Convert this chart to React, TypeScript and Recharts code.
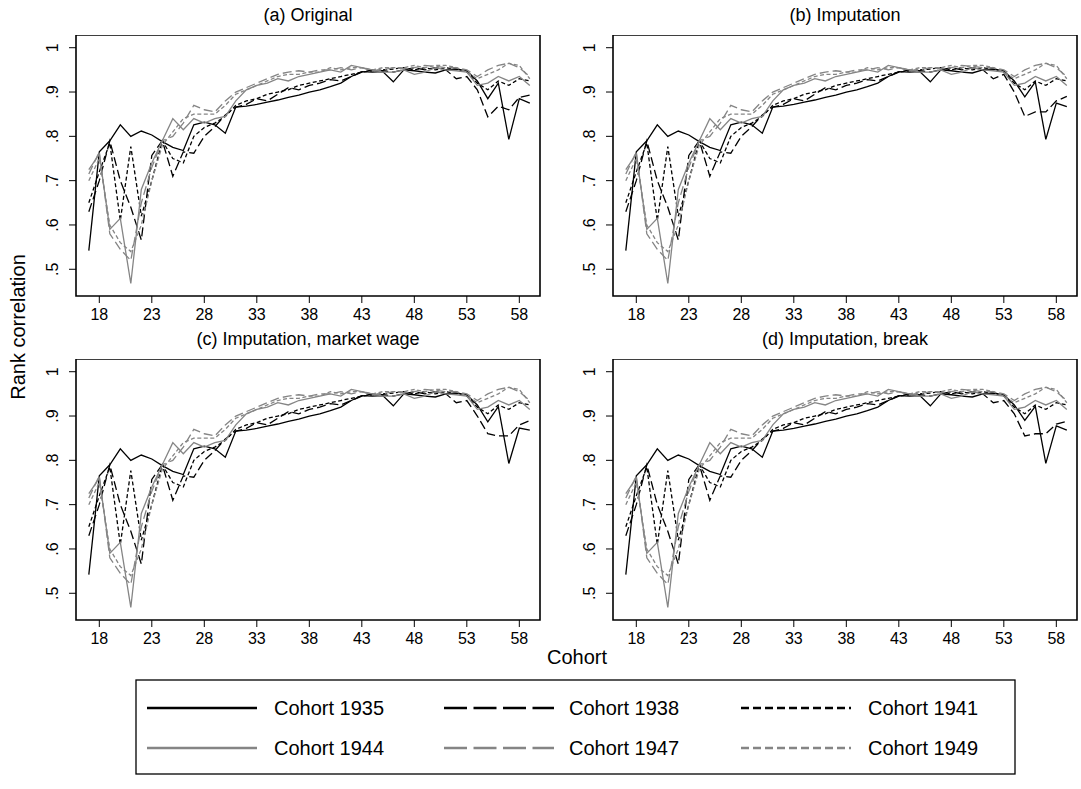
import React from 'react'
import { LineChart, Line, XAxis, YAxis, ReferenceArea } from 'recharts'

const FONT = '"Liberation Sans", Arial, Helvetica, sans-serif'

const AGES = [
  17, 18, 19, 20, 21, 22, 23, 24, 25, 26, 27, 28, 29, 30, 31, 32, 33, 34, 35, 36, 37, 38,
  39, 40, 41, 42, 43, 44, 45, 46, 47, 48, 49, 50, 51, 52, 53, 54, 55, 56, 57, 58, 59,
]
const X_TICKS = [18, 23, 28, 33, 38, 43, 48, 53, 58]
const Y_TICKS = [0.5, 0.6, 0.7, 0.8, 0.9, 1]
const COHORTS = ['1935', '1938', '1941', '1944', '1947', '1949']

// panel (a), ages 17..59
const A_1935 = [
  .542, .765, .790, .826, .800, .812, .803, .788, .775, .768,
  .826, .832, .826, .807, .866, .868, .872, .877, .882, .888,
  .893, .900, .905, .912, .920, .935, .946, .945, .946, .923,
  .950, .948, .945, .943, .950, .952, .948, .925, .885, .920,
  .793, .885, .875,
]
const A_1938 = [
  .630, .700, .790, .700, .640, .566, .757, .790, .710, .765,
  .762, .800, .822, .848, .866, .872, .885, .880, .895, .910,
  .905, .915, .920, .928, .925, .935, .945, .950, .948, .945,
  .950, .955, .950, .955, .950, .930, .935, .905, .844, .868,
  .860, .888, .893,
]
const A_1941 = [
  .650, .720, .785, .610, .777, .620, .700, .790, .750, .740,
  .800, .820, .830, .845, .870, .880, .885, .895, .900, .905,
  .915, .920, .925, .930, .935, .940, .945, .948, .950, .952,
  .955, .950, .955, .950, .955, .950, .945, .920, .905, .925,
  .915, .930, .925,
]
const A_1944 = [
  .725, .760, .590, .615, .468, .680, .740, .790, .840, .815,
  .840, .830, .840, .845, .880, .905, .915, .920, .930, .925,
  .935, .940, .945, .950, .945, .960, .955, .950, .945, .945,
  .950, .940, .945, .955, .950, .948, .945, .915, .920, .935,
  .925, .935, .915,
]
const A_1947 = [
  .715, .765, .580, .545, .520, .650, .730, .790, .800, .830,
  .870, .860, .855, .880, .900, .910, .920, .930, .940, .945,
  .948, .945, .950, .950, .955, .950, .955, .948, .950, .955,
  .952, .955, .960, .958, .955, .955, .950, .935, .950, .960,
  .965, .955, .935,
]
const A_1949 = [
  .700, .750, .600, .560, .540, .600, .700, .780, .810, .840,
  .850, .850, .850, .870, .895, .905, .915, .925, .935, .940,
  .940, .945, .945, .955, .950, .955, .955, .950, .955, .955,
  .955, .960, .955, .960, .960, .955, .945, .930, .940, .950,
  .965, .960, .930,
]

// panels (b)-(d) follow (a) up to 52; their own values for ages 53..59
const B_1935_TAIL = [.948, .925, .889, .923, .793, .875, .867]
const B_1938_TAIL = [.940, .900, .845, .855, .855, .880, .890]
const C_1935_TAIL = [.948, .925, .887, .921, .793, .873, .868]
const C_1938_TAIL = [.935, .900, .860, .855, .855, .880, .890]
const D_1935_TAIL = [.948, .925, .890, .922, .793, .878, .868]
const D_1938_TAIL = [.935, .905, .855, .860, .860, .882, .888]

const STYLE: Record<string, { stroke: string; dash?: string; legendDash?: string }> = {
  '1935': { stroke: '#000' },
  '1938': { stroke: '#000', dash: '9 4', legendDash: '23 6.5' },
  '1941': { stroke: '#000', dash: '4 2.5', legendDash: '8 4' },
  '1944': { stroke: '#858585' },
  '1947': { stroke: '#858585', dash: '9 4', legendDash: '23 6.5' },
  '1949': { stroke: '#858585', dash: '4 2.5', legendDash: '8 4' },
}

const withTail = (base: number[], tail: number[]) => [...base.slice(0, base.length - tail.length), ...tail]

const buildRows = (series: Record<string, number[]>) =>
  AGES.map((age, i) => {
    const row: Record<string, number> = { age }
    COHORTS.forEach(c => { row['c' + c] = series[c][i] })
    return row
  })

const PANELS = [
  {
    title: '(a) Original', left: 76, top: 35,
    rows: buildRows({ '1935': A_1935, '1938': A_1938, '1941': A_1941, '1944': A_1944, '1947': A_1947, '1949': A_1949 }),
  },
  {
    title: '(b) Imputation', left: 613, top: 35,
    rows: buildRows({ '1935': withTail(A_1935, B_1935_TAIL), '1938': withTail(A_1938, B_1938_TAIL), '1941': A_1941, '1944': A_1944, '1947': A_1947, '1949': A_1949 }),
  },
  {
    title: '(c) Imputation, market wage', left: 76, top: 359,
    rows: buildRows({ '1935': withTail(A_1935, C_1935_TAIL), '1938': withTail(A_1938, C_1938_TAIL), '1941': A_1941, '1944': A_1944, '1947': A_1947, '1949': A_1949 }),
  },
  {
    title: '(d) Imputation, break', left: 613, top: 359,
    rows: buildRows({ '1935': withTail(A_1935, D_1935_TAIL), '1938': withTail(A_1938, D_1938_TAIL), '1941': A_1941, '1944': A_1944, '1947': A_1947, '1949': A_1949 }),
  },
]

const PLOT_W = 464
const PLOT_H = 261
const Y_AXIS_W = 60
const X_AXIS_H = 40
const X_DOMAIN: [number, number] = [15.78, 59.97]
const Y_DOMAIN: [number, number] = [0.4397, 1.0287]

const fmtY = (v: number) => (v === 1 ? '1' : '.' + Math.round(v * 10))

const YTick = (props: any) => {
  const { x, y, payload } = props
  const xx = x - 9
  return (
    <text x={xx} y={y} transform={`rotate(-90 ${xx} ${y})`} textAnchor="middle"
      fontSize={16} fontFamily={FONT} fill="#000">
      {fmtY(payload.value)}
    </text>
  )
}

function Panel({ title, rows, left, top }: { title: string; rows: any[]; left: number; top: number }) {
  return (
    <div style={{ position: 'absolute', left: left - Y_AXIS_W, top }}>
      <div style={{
        position: 'absolute', left: Y_AXIS_W, top: -31, width: PLOT_W, textAlign: 'center',
        fontSize: 18, lineHeight: '22px', fontFamily: FONT, color: '#000',
      }}>{title}</div>
      <LineChart width={Y_AXIS_W + PLOT_W + 4} height={PLOT_H + X_AXIS_H} data={rows}
        margin={{ top: 0, right: 4, bottom: 0, left: 0 }}>
        <XAxis dataKey="age" type="number" domain={X_DOMAIN} ticks={X_TICKS} allowDataOverflow
          interval={0} axisLine={false} stroke="#000" tickSize={7} tickMargin={6} height={X_AXIS_H}
          tick={{ fill: '#000', fontSize: 16, fontFamily: FONT }} />
        <YAxis type="number" domain={Y_DOMAIN} ticks={Y_TICKS} allowDataOverflow interval={0}
          axisLine={false} stroke="#000" tickSize={7} width={Y_AXIS_W} tick={<YTick />} />
        <ReferenceArea x1={X_DOMAIN[0]} x2={X_DOMAIN[1]} y1={Y_DOMAIN[0]} y2={Y_DOMAIN[1]}
          fill="none" stroke="#000" strokeWidth={1.6} />
        {COHORTS.map(c => (
          <Line key={c} dataKey={'c' + c} type="linear" stroke={STYLE[c].stroke} strokeWidth={1.3}
            strokeDasharray={STYLE[c].dash} dot={false} activeDot={false} isAnimationActive={false} />
        ))}
      </LineChart>
    </div>
  )
}

const LEGEND_COLS = [
  { sx: 12, tx: 139 },
  { sx: 309, tx: 434 },
  { sx: 606, tx: 733 },
]

function Legend() {
  return (
    <svg width={882} height={97} style={{ position: 'absolute', left: 135, top: 679 }}>
      <rect x={1} y={1} width={879} height={94} fill="#fff" stroke="#000" strokeWidth={1.3} />
      {COHORTS.map((c, i) => {
        const col = LEGEND_COLS[i % 3]
        const y = i < 3 ? 29 : 69
        return (
          <g key={c}>
            <line x1={col.sx} x2={col.sx + 110} y1={y} y2={y} stroke={STYLE[c].stroke}
              strokeWidth={2.7} strokeDasharray={STYLE[c].legendDash} />
            <text x={col.tx} y={y} dominantBaseline="central" fontSize={20} fontFamily={FONT} fill="#000">
              Cohort {c}
            </text>
          </g>
        )
      })}
    </svg>
  )
}

export default function App() {
  return (
    <div style={{ position: 'absolute', left: 0, top: 0, width: 1081, height: 789, background: '#fff', overflow: 'hidden' }}>
      {PANELS.map(p => <Panel key={p.title} {...p} />)}
      <div style={{
        position: 'absolute', left: 18, top: 327, transform: 'translate(-50%, -50%) rotate(-90deg)',
        whiteSpace: 'nowrap', fontSize: 20, fontFamily: FONT, color: '#000',
      }}>Rank correlation</div>
      <div style={{
        position: 'absolute', left: 577, top: 657, transform: 'translate(-50%, -50%)',
        whiteSpace: 'nowrap', fontSize: 20, fontFamily: FONT, color: '#000',
      }}>Cohort</div>
      <Legend />
    </div>
  )
}
